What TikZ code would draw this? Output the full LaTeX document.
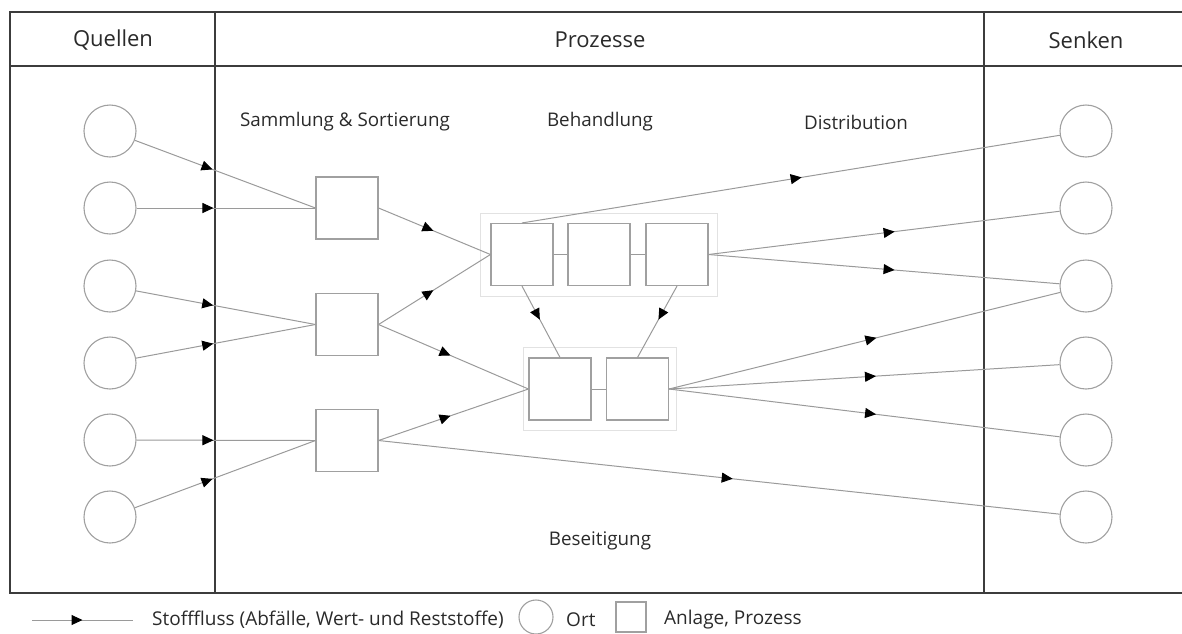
\documentclass[tikz,border=0pt]{standalone}
\usepackage{fontspec}
\setmainfont{Open Sans}
\usetikzlibrary{arrows.meta,decorations.markings}
\definecolor{framec}{HTML}{3C3C3C}
\definecolor{linec}{HTML}{9A9A9A}
\definecolor{shapec}{HTML}{A0A0A0}
\definecolor{groupc}{HTML}{E2E2E2}
\definecolor{textc}{HTML}{2A2A2A}
\tikzset{
  frameline/.style={draw=framec, line width=2pt},
  ort/.style={circle, draw=shapec, line width=1.1pt, minimum size=52pt, inner sep=0pt},
  anlage/.style={rectangle, draw=shapec, line width=1.1pt, minimum size=62pt, inner sep=0pt},
  grouprect/.style={draw=groupc, line width=1pt},
  flow/.style={draw=linec, line width=1pt, postaction=decorate,
    decoration={markings, mark=at position #1 with {\arrow{Triangle[length=11pt,width=10pt,color=black]}}}},
  link/.style={draw=linec, line width=1pt},
  headtxt/.style={text=textc, font=\fontsize{22}{26}\selectfont, inner sep=0pt},
  labtxt/.style={text=textc, font=\fontsize{18.8}{22}\selectfont, inner sep=0pt},
  legtxt/.style={text=textc, font=\fontsize{19}{22}\selectfont, inner sep=0pt, anchor=west},
}
\begin{document}
\begin{tikzpicture}[x=1pt,y=-1pt]
\useasboundingbox (0,0) rectangle (1182,633);
% frame
\draw[frameline] (10,12) rectangle (1186,593);
\draw[frameline] (10,66) -- (1186,66);
\draw[frameline] (215,12) -- (215,593);
\draw[frameline] (984,12) -- (984,593);
% headers
\node[headtxt] (hq) at (113,40) {Quellen};
\node[headtxt] (hp) at (600,40) {Prozesse};
\node[headtxt] (hs) at (1086,40) {Senken};
% sublabels
\node[labtxt] (lsam) at (345,122) {Sammlung \& Sortierung};
\node[labtxt] (lbeh) at (600,122) {Behandlung};
\node[labtxt] (ldis) at (856,122) {Distribution};
\node[labtxt] (lbes) at (600,541) {Beseitigung};
% group rectangles
\draw[grouprect] (480,213) rectangle (717,296);
\draw[grouprect] (523,347) rectangle (676,430);
% sources
\node[ort] (q1) at (110,131) {};
\node[ort] (q2) at (110,208) {};
\node[ort] (q3) at (110,286) {};
\node[ort] (q4) at (110,363) {};
\node[ort] (q5) at (110,440) {};
\node[ort] (q6) at (110,517) {};
% sinks
\node[ort] (z1) at (1086,131) {};
\node[ort] (z2) at (1086,208) {};
\node[ort] (z3) at (1086,286) {};
\node[ort] (z4) at (1086,363) {};
\node[ort] (z5) at (1086,440) {};
\node[ort] (z6) at (1086,517) {};
% collection
\node[anlage] (s1) at (347,208) {};
\node[anlage] (s2) at (347,324.5) {};
\node[anlage] (s3) at (347,440.5) {};
% treatment
\node[anlage] (b1) at (522,254.5) {};
\node[anlage] (b2) at (599,254.5) {};
\node[anlage] (b3) at (677,254.5) {};
% disposal
\node[anlage] (d1) at (560,389) {};
\node[anlage] (d2) at (637.5,389) {};
% internal links
\draw[link] (b1.east) -- (b2.west);
\draw[link] (b2.east) -- (b3.west);
\draw[link] (d1.east) -- (d2.west);
% flows sources -> collection
\draw[flow=0.43] (q1) -- (s1.west);
\draw[flow=0.43] (q2) -- (s1.west);
\draw[flow=0.43] (q3) -- (s2.west);
\draw[flow=0.43] (q4) -- (s2.west);
\draw[flow=0.43] (q5) -- (s3.west);
\draw[flow=0.43] (q6) -- (s3.west);
% collection -> treatment / disposal
\draw[flow=0.49] (s1.east) -- (b1.west);
\draw[flow=0.49] (s2.east) -- (b1.west);
\draw[flow=0.48] (s2.east) -- (d1.west);
\draw[flow=0.48] (s3.east) -- (d1.west);
\draw[flow=0.52] (s3.east) -- (z6);
% treatment
\draw[flow=0.52] (b1.north) -- (z1);
\draw[flow=0.53] (b3.east) -- (z2);
\draw[flow=0.53] (b3.east) -- (z3);
\draw[flow=0.47] (b1.south) -- (d1.north);
\draw[flow=0.47] (b3.south) -- (d2.north);
% disposal -> sinks
\draw[flow=0.53] (d2.east) -- (z3);
\draw[flow=0.53] (d2.east) -- (z4);
\draw[flow=0.53] (d2.east) -- (z5);
% legend
\coordinate (la) at (32,620);
\coordinate (lb) at (133,620);
\draw[flow=0.5] (la) -- (lb);
\node[legtxt] (lt1) at (152,620) {Stofffluss (Abfälle, Wert- und Reststoffe)};
\node[ort, minimum size=34pt] (lc) at (536,617) {};
\node[legtxt] (lt2) at (566,620) {Ort};
\node[anlage, minimum size=30pt] (lr) at (631,617) {};
\node[legtxt] (lt3) at (664,620) {Anlage, Prozess};
\end{tikzpicture}
\end{document}
